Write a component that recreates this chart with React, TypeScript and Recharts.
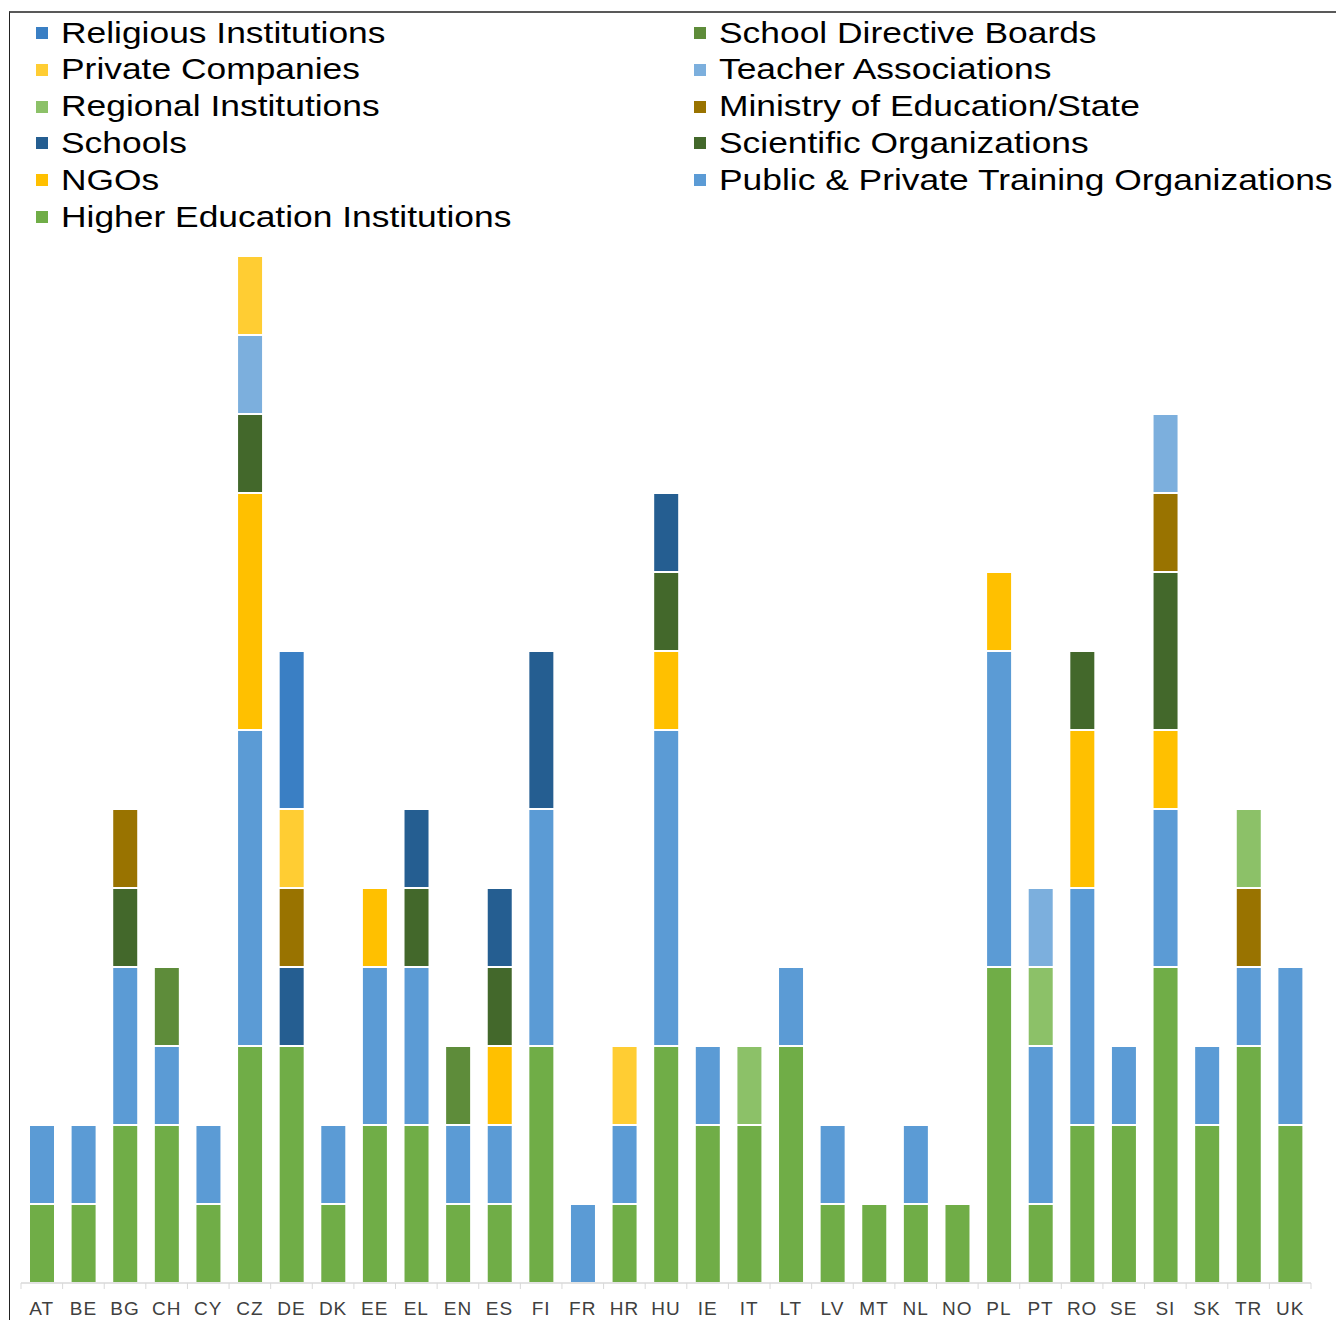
import React from 'react';
import { BarChart, Bar, XAxis, YAxis } from 'recharts';

const countries = ['AT', 'BE', 'BG', 'CH', 'CY', 'CZ', 'DE', 'DK', 'EE', 'EL', 'EN', 'ES', 'FI', 'FR', 'HR', 'HU', 'IE', 'IT', 'LT', 'LV', 'MT', 'NL', 'NO', 'PL', 'PT', 'RO', 'SE', 'SI', 'SK', 'TR', 'UK'];

// stacked bottom -> top
const higherEducation = [1, 1, 2, 2, 1, 3, 3, 1, 2, 2, 1, 1, 3, 0, 1, 3, 2, 2, 3, 1, 1, 1, 1, 4, 1, 2, 2, 4, 2, 3, 2];
const trainingOrgs = [1, 1, 2, 1, 1, 4, 0, 1, 2, 2, 1, 1, 3, 1, 1, 4, 1, 0, 1, 1, 0, 1, 0, 4, 2, 3, 1, 2, 1, 1, 2];
const ngos = [0, 0, 0, 0, 0, 3, 0, 0, 1, 0, 0, 1, 0, 0, 0, 1, 0, 0, 0, 0, 0, 0, 0, 1, 0, 2, 0, 1, 0, 0, 0];
const scientific = [0, 0, 1, 0, 0, 1, 0, 0, 0, 1, 0, 1, 0, 0, 0, 1, 0, 0, 0, 0, 0, 0, 0, 0, 0, 1, 0, 2, 0, 0, 0];
const schools = [0, 0, 0, 0, 0, 0, 1, 0, 0, 1, 0, 1, 2, 0, 0, 1, 0, 0, 0, 0, 0, 0, 0, 0, 0, 0, 0, 0, 0, 0, 0];
const ministry = [0, 0, 1, 0, 0, 0, 1, 0, 0, 0, 0, 0, 0, 0, 0, 0, 0, 0, 0, 0, 0, 0, 0, 0, 0, 0, 0, 1, 0, 1, 0];
const regional = [0, 0, 0, 0, 0, 0, 0, 0, 0, 0, 0, 0, 0, 0, 0, 0, 0, 1, 0, 0, 0, 0, 0, 0, 1, 0, 0, 0, 0, 1, 0];
const teacher = [0, 0, 0, 0, 0, 1, 0, 0, 0, 0, 0, 0, 0, 0, 0, 0, 0, 0, 0, 0, 0, 0, 0, 0, 1, 0, 0, 1, 0, 0, 0];
const privateCos = [0, 0, 0, 0, 0, 1, 1, 0, 0, 0, 0, 0, 0, 0, 1, 0, 0, 0, 0, 0, 0, 0, 0, 0, 0, 0, 0, 0, 0, 0, 0];
const directiveBoards = [0, 0, 0, 1, 0, 0, 0, 0, 0, 0, 1, 0, 0, 0, 0, 0, 0, 0, 0, 0, 0, 0, 0, 0, 0, 0, 0, 0, 0, 0, 0];
const religious = [0, 0, 0, 0, 0, 0, 2, 0, 0, 0, 0, 0, 0, 0, 0, 0, 0, 0, 0, 0, 0, 0, 0, 0, 0, 0, 0, 0, 0, 0, 0];

const SERIES = [
    { key: 'hei', name: 'Higher Education Institutions', values: higherEducation, color: '#70AD47' },
    { key: 'training', name: 'Public & Private Training Organizations', values: trainingOrgs, color: '#5B9BD5' },
    { key: 'ngos', name: 'NGOs', values: ngos, color: '#FFC000' },
    { key: 'scientific', name: 'Scientific Organizations', values: scientific, color: '#43682B' },
    { key: 'schools', name: 'Schools', values: schools, color: '#255E91' },
    { key: 'ministry', name: 'Ministry of Education/State', values: ministry, color: '#997300' },
    { key: 'regional', name: 'Regional Institutions', values: regional, color: '#8CC168' },
    { key: 'teacher', name: 'Teacher Associations', values: teacher, color: '#7CAFDD' },
    { key: 'private', name: 'Private Companies', values: privateCos, color: '#FFCD33' },
    { key: 'boards', name: 'School Directive Boards', values: directiveBoards, color: '#5E8C3A' },
    { key: 'religious', name: 'Religious Institutions', values: religious, color: '#3A7FC4' },
];

const data = countries.map((c, i) => {
    const row: any = { country: c };
    SERIES.forEach(s => { row[s.key] = s.values[i]; });
    return row;
});

const W = 1336;
const H = 1320;
const M = { top: 256, right: 25, bottom: 0, left: 21 };
const AXIS_Y = H - 37;
const BAND = (W - M.left - M.right) / countries.length;
const FONT = '"Liberation Sans", Arial, sans-serif';

function CountryTick(props: any) {
    const { x, payload, index } = props;
    const left = x - BAND / 2;
    return (
        <g>
            <line x1={left} x2={left} y1={AXIS_Y} y2={AXIS_Y + 6} stroke="#d9d9d9" />
            {index === countries.length - 1 && (
                <line x1={x + BAND / 2} x2={x + BAND / 2} y1={AXIS_Y} y2={AXIS_Y + 6} stroke="#d9d9d9" />
            )}
            <text x={x} y={AXIS_Y + 32} textAnchor="middle" fontSize={19} fill="#404040" fontFamily={FONT} letterSpacing={1}>
                {payload.value}
            </text>
        </g>
    );
}

function ChartLegend() {
    // legend reads row by row, top of stack first
    const items = [...SERIES].reverse();
    return (
        <div style={{ position: 'absolute', left: 0, top: 0, width: W, fontFamily: FONT }}>
            {items.map((s, i) => {
                const col = i % 2;
                const row = Math.floor(i / 2);
                return (
                    <div key={s.key} style={{ position: 'absolute', left: col === 0 ? 36 : 694, top: 15 + row * 36.8, height: 36, display: 'flex', alignItems: 'center', whiteSpace: 'nowrap' }}>
                        <span style={{ width: 12, height: 12, background: s.color, display: 'inline-block', marginRight: 13 }} />
                        <span style={{ fontSize: 29, color: '#000', display: 'inline-block', transform: 'scaleX(1.22)', transformOrigin: 'left center' }}>{s.name}</span>
                    </div>
                );
            })}
        </div>
    );
}

export default function App() {
    return (
        <div style={{ position: 'absolute', left: 0, top: 0, width: W, height: H, overflow: 'hidden', background: '#fff' }}>
            <div style={{ position: 'absolute', left: 9, top: 11, width: W + 20, height: H + 20, borderLeft: '1.5px solid #222', borderTop: '2px solid #595959' }} />
            <ChartLegend />
            <div style={{ position: 'absolute', left: 0, top: 0 }}>
                <BarChart width={W} height={H} data={data} margin={M} barSize={26}>
                    <XAxis dataKey="country" height={37} axisLine={{ stroke: '#d9d9d9', strokeWidth: 1.5 }} tickLine={false} tick={<CountryTick />} interval={0} />
                    <YAxis hide domain={[0, 13]} width={0} />
                    {SERIES.map(s => (
                        <Bar key={s.key} dataKey={s.key} name={s.name} stackId="a" fill={s.color} stroke="#fff" strokeWidth={2} isAnimationActive={false} />
                    ))}
                </BarChart>
            </div>
        </div>
    );
}
